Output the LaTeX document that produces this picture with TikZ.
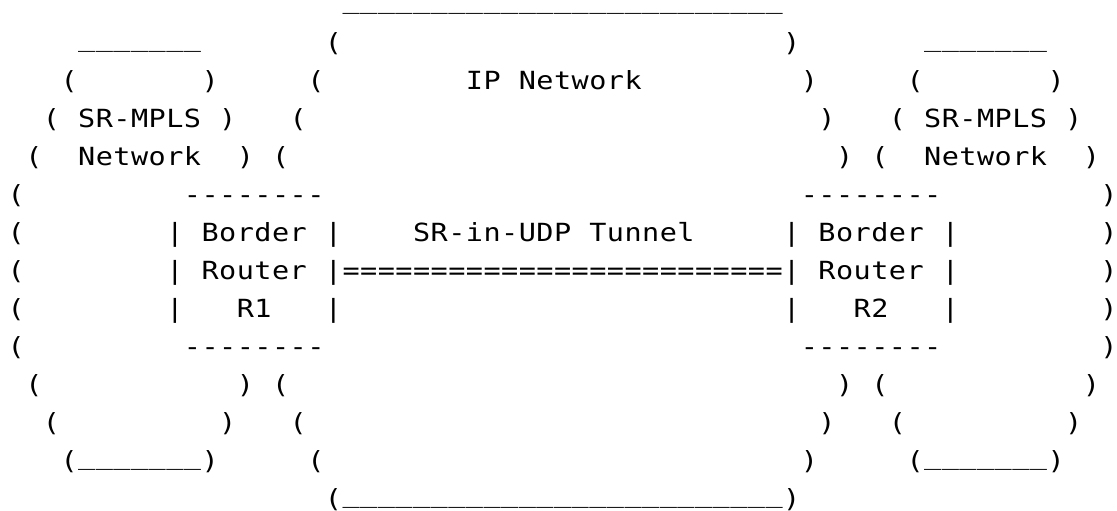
\documentclass[tikz,border=0pt]{standalone}
\usepackage{fontspec}
\newfontfamily\asciifont{DejaVu Sans Mono}[FakeStretch=1.14]
\newlength\cellw \setlength\cellw{17.625pt}
\makeatletter
\newcommand\cells[1]{\@tfor\asc@ch:=#1\do{\makebox[\cellw][c]{\asc@ch}}}
\makeatother
\newcommand\us{\raisebox{5pt}{\_}}
\newcommand\rep[2]{\foreach\k in {1,...,#1}{\makebox[\cellw][c]{#2}}}
\tikzset{ascii/.style={inner sep=0pt, outer sep=0pt, anchor=base west,
  font=\asciifont\fontsize{25}{30}\selectfont, text=black}}
% name, column, row, content
\newcommand\asc[4]{\node[ascii] (#1) at ({7.5+17.625*(#2)},{13.9+38*(#3)}) {#4};}
\begin{document}
\begin{tikzpicture}[x=1pt,y=-1pt]
\fill[white] (0,0) rectangle (1117,511);
\useasboundingbox (0,0) rectangle (1117,511);
% row 0
\asc{ipTop}{19}{0}{\rep{25}{\us}}
% row 1
\asc{lTop}{4}{1}{\rep{7}{\us}}
\asc{ipL1}{18}{1}{\cells{(}}
\asc{ipR1}{44}{1}{\cells{)}}
\asc{rTop}{52}{1}{\rep{7}{\us}}
% row 2
\asc{lL2}{3}{2}{\cells{(}}
\asc{lR2}{11}{2}{\cells{)}}
\asc{ipL2}{17}{2}{\cells{(}}
\asc{ipLab}{26}{2}{\cells{IP}}
\asc{ipLabB}{29}{2}{\cells{Network}}
\asc{ipR2}{45}{2}{\cells{)}}
\asc{rL2}{51}{2}{\cells{(}}
\asc{rR2}{59}{2}{\cells{)}}
% row 3
\asc{lL3}{2}{3}{\cells{(}}
\asc{lLab}{4}{3}{\cells{SR-MPLS}}
\asc{lR3}{12}{3}{\cells{)}}
\asc{ipL3}{16}{3}{\cells{(}}
\asc{ipR3}{46}{3}{\cells{)}}
\asc{rL3}{50}{3}{\cells{(}}
\asc{rLab}{52}{3}{\cells{SR-MPLS}}
\asc{rR3}{60}{3}{\cells{)}}
% row 4
\asc{lL4}{1}{4}{\cells{(}}
\asc{lLabB}{4}{4}{\cells{Network}}
\asc{lR4}{13}{4}{\cells{)}}
\asc{ipL4}{15}{4}{\cells{(}}
\asc{ipR4}{47}{4}{\cells{)}}
\asc{rL4}{49}{4}{\cells{(}}
\asc{rLabB}{52}{4}{\cells{Network}}
\asc{rR4}{61}{4}{\cells{)}}
% row 5
\asc{lL5}{0}{5}{\cells{(}}
\asc{b1Top}{10}{5}{\rep{8}{-}}
\asc{b2Top}{45}{5}{\rep{8}{-}}
\asc{rR5}{62}{5}{\cells{)}}
% row 6
\asc{lL6}{0}{6}{\cells{(}}
\asc{b1L6}{9}{6}{\cells{|}}
\asc{b1Lab}{11}{6}{\cells{Border}}
\asc{b1R6}{18}{6}{\cells{|}}
\asc{tunLab}{23}{6}{\cells{SR-in-UDP}}
\asc{tunLabB}{33}{6}{\cells{Tunnel}}
\asc{b2L6}{44}{6}{\cells{|}}
\asc{b2Lab}{46}{6}{\cells{Border}}
\asc{b2R6}{53}{6}{\cells{|}}
\asc{rR6}{62}{6}{\cells{)}}
% row 7
\asc{lL7}{0}{7}{\cells{(}}
\asc{b1L7}{9}{7}{\cells{|}}
\asc{b1LabB}{11}{7}{\cells{Router}}
\asc{tunnel}{18}{7}{\cells{|}\rep{25}{=}\cells{|}}
\asc{b2LabB}{46}{7}{\cells{Router}}
\asc{b2R7}{53}{7}{\cells{|}}
\asc{rR7}{62}{7}{\cells{)}}
% row 8
\asc{lL8}{0}{8}{\cells{(}}
\asc{b1L8}{9}{8}{\cells{|}}
\asc{b1Name}{13}{8}{\cells{R1}}
\asc{b1R8}{18}{8}{\cells{|}}
\asc{b2L8}{44}{8}{\cells{|}}
\asc{b2Name}{48}{8}{\cells{R2}}
\asc{b2R8}{53}{8}{\cells{|}}
\asc{rR8}{62}{8}{\cells{)}}
% row 9
\asc{lL9}{0}{9}{\cells{(}}
\asc{b1Bot}{10}{9}{\rep{8}{-}}
\asc{b2Bot}{45}{9}{\rep{8}{-}}
\asc{rR9}{62}{9}{\cells{)}}
% row 10
\asc{lL10}{1}{10}{\cells{(}}
\asc{lR10}{13}{10}{\cells{)}}
\asc{ipL10}{15}{10}{\cells{(}}
\asc{ipR10}{47}{10}{\cells{)}}
\asc{rL10}{49}{10}{\cells{(}}
\asc{rR10}{61}{10}{\cells{)}}
% row 11
\asc{lL11}{2}{11}{\cells{(}}
\asc{lR11}{12}{11}{\cells{)}}
\asc{ipL11}{16}{11}{\cells{(}}
\asc{ipR11}{46}{11}{\cells{)}}
\asc{rL11}{50}{11}{\cells{(}}
\asc{rR11}{60}{11}{\cells{)}}
% row 12
\asc{lBot}{3}{12}{\cells{(}\rep{7}{\us}\cells{)}}
\asc{ipL12}{17}{12}{\cells{(}}
\asc{ipR12}{45}{12}{\cells{)}}
\asc{rBot}{51}{12}{\cells{(}\rep{7}{\us}\cells{)}}
% row 13
\asc{ipBot}{18}{13}{\cells{(}\rep{25}{\us}\cells{)}}
\end{tikzpicture}
\end{document}
